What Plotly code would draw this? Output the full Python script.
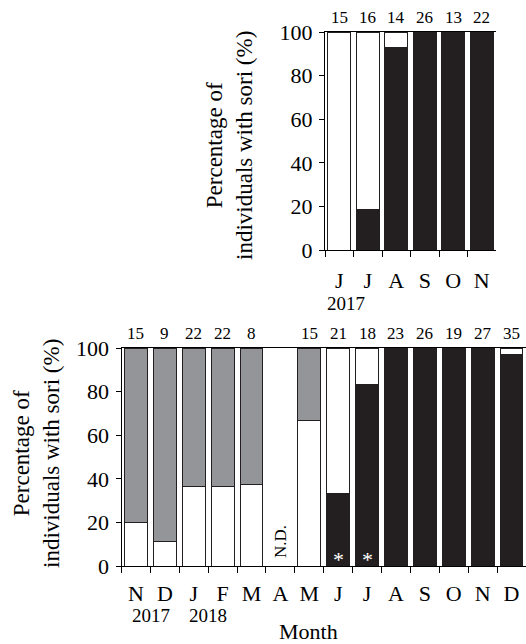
import plotly.graph_objects as go

# ---------------- data ----------------
top_keys = ["Jun-2017", "Jul-2017", "Aug-2017", "Sep-2017", "Oct-2017", "Nov-2017"]
top_months = ["J", "J", "A", "S", "O", "N"]
top_n = [15, 16, 14, 26, 13, 22]
top_black = [0, 18.75, 92.9, 100, 100, 100]
top_white = [100, 81.25, 7.1, 0, 0, 0]

bottom_keys = ["Nov-2017", "Dec-2017", "Jan-2018", "Feb-2018", "Mar-2018", "Apr-2018",
               "May-2018", "Jun-2018", "Jul-2018", "Aug-2018", "Sep-2018", "Oct-2018",
               "Nov-2018", "Dec-2018"]
bottom_months = ["N", "D", "J", "F", "M", "A", "M", "J", "J", "A", "S", "O", "N", "D"]
bottom_n = [15, 9, 22, 22, 8, None, 15, 21, 18, 23, 26, 19, 27, 35]
bottom_black = [0, 0, 0, 0, 0, None, 0, 33.3, 83.3, 100, 100, 100, 100, 97.1]
bottom_white = [20, 11.1, 36.4, 36.4, 37.5, None, 66.7, 66.7, 16.7, 0, 0, 0, 0, 2.9]
bottom_gray = [80, 88.9, 63.6, 63.6, 62.5, None, 33.3, 0, 0, 0, 0, 0, 0, 0]
nd_months = ["Apr-2018"]
star_months = ["Jun-2018", "Jul-2018"]

y_ticks = [0, 20, 40, 60, 80, 100]

BLACK = "#231f20"
WHITE = "#ffffff"
GRAY = "#939598"
FONT = "Liberation Serif"

W, H = 526, 644


def px_x(p):
    return p / W


def px_y(p):
    return 1 - p / H


def nz(vals):
    return [None if (v is None or v == 0) else v for v in vals]


fig = go.Figure()

# top panel
for vals, col in [(top_black, BLACK), (top_white, WHITE)]:
    fig.add_trace(go.Bar(x=top_keys, y=nz(vals), marker=dict(color=col, line=dict(color=BLACK, width=1)),
                         xaxis="x", yaxis="y", showlegend=False))
# bottom panel
for vals, col in [(bottom_black, BLACK), (bottom_white, WHITE), (bottom_gray, GRAY)]:
    fig.add_trace(go.Bar(x=bottom_keys, y=nz(vals), marker=dict(color=col, line=dict(color=BLACK, width=1)),
                         xaxis="x2", yaxis="y2", showlegend=False))

axis_common = dict(showline=True, linecolor="black", linewidth=1, ticks="outside",
                   tickcolor="black", tickwidth=1, showgrid=False, zeroline=False,
                   automargin=False)
xfont = dict(family=FONT, size=22, color="black")
yfont = dict(family=FONT, size=22, color="black")

fig.update_layout(
    width=W, height=H, margin=dict(l=0, r=0, t=0, b=0),
    paper_bgcolor="white", plot_bgcolor="white",
    barmode="stack", bargap=0.21,
    font=dict(family=FONT, color="black"),
    xaxis=dict(domain=[px_x(325), px_x(496)], anchor="y", type="category",
               range=[-0.5, len(top_keys) - 0.5], tickmode="array", tickvals=top_keys,
               ticktext=top_months, tickson="boundaries", ticklen=6, mirror=True,
               ticklabelstandoff=11, tickfont=xfont, **axis_common),
    yaxis=dict(domain=[px_y(250), px_y(32)], anchor="x", range=[0, 100], tickvals=y_ticks,
               ticklen=5, tickfont=yfont, ticklabelstandoff=2, **axis_common),
    xaxis2=dict(domain=[px_x(121.5), 1.0], anchor="y2", type="category",
                range=[-0.5, len(bottom_keys) - 0.5], tickmode="array", tickvals=bottom_keys,
                ticktext=bottom_months, tickson="boundaries", ticklen=6, mirror=True,
                ticklabelstandoff=8, tickfont=xfont, **axis_common),
    yaxis2=dict(domain=[px_y(566), px_y(348)], anchor="x2", range=[0, 100], tickvals=y_ticks,
                ticklen=5, tickfont=yfont, ticklabelstandoff=2, **axis_common),
)

ann = []
# sample sizes
for k, n in zip(top_keys, top_n):
    if n is not None:
        ann.append(dict(x=k, y=100, xref="x", yref="y", text=str(n), showarrow=False,
                        yanchor="bottom", yshift=3, font=dict(size=17)))
for k, n in zip(bottom_keys, bottom_n):
    if n is not None:
        ann.append(dict(x=k, y=100, xref="x2", yref="y2", text=str(n), showarrow=False,
                        yanchor="bottom", yshift=3, font=dict(size=17)))
# N.D.
for k in nd_months:
    ann.append(dict(x=k, y=11.2, xref="x2", yref="y2", text="N.D.", showarrow=False,
                    textangle=-90, font=dict(size=17)))
# asterisks
for k in star_months:
    ann.append(dict(x=k, y=0, xref="x2", yref="y2", text="*", showarrow=False,
                    yanchor="bottom", yshift=-8, font=dict(size=22, color="white")))


def paper_text(x, y, text, size, angle=0):
    return dict(x=px_x(x), y=px_y(y), xref="paper", yref="paper", text=text,
                showarrow=False, xanchor="center", yanchor="middle", textangle=angle,
                font=dict(size=size))


# year labels
ann.append(paper_text(346, 303, "2017", 19))
ann.append(paper_text(151, 615, "2017", 19))
ann.append(paper_text(208, 615, "2018", 19))
# axis titles
ytitle = "Percentage of<br>individuals with sori (%)"
ann.append(paper_text(229, 146, ytitle, 23, -90))
ann.append(paper_text(36, 454, ytitle, 23, -90))
ann.append(paper_text(308, 631, "Month", 22))

fig.update_layout(annotations=ann)
fig.write_html("out.html")
